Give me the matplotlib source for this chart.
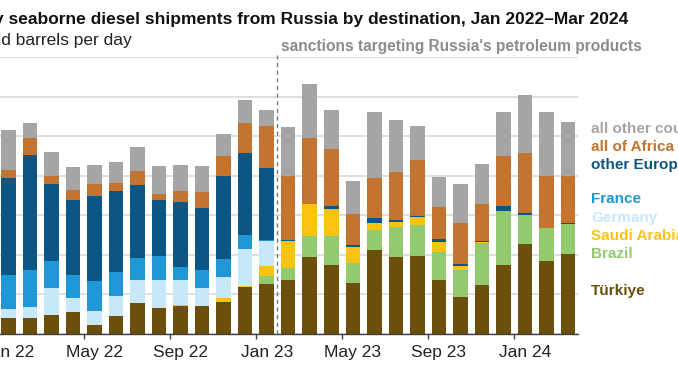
import matplotlib
matplotlib.use("Agg")
import matplotlib.pyplot as plt
import numpy as np

plt.rcParams['font.family'] = ['Liberation Sans', 'DejaVu Sans']

months = ['Jan 22', 'Feb 22', 'Mar 22', 'Apr 22', 'May 22', 'Jun 22', 'Jul 22', 'Aug 22', 'Sep 22',
          'Oct 22', 'Nov 22', 'Dec 22', 'Jan 23', 'Feb 23', 'Mar 23', 'Apr 23', 'May 23', 'Jun 23',
          'Jul 23', 'Aug 23', 'Sep 23', 'Oct 23', 'Nov 23', 'Dec 23', 'Jan 24', 'Feb 24', 'Mar 24']

turkiye = [78, 79, 96, 108, 42, 91, 154, 128, 137, 140, 162, 235, 252, 272, 390, 345, 258, 421,
           390, 394, 269, 187, 247, 348, 456, 368, 402]
brazil = [0, 0, 0, 0, 0, 0, 0, 0, 0, 0, 0, 0, 37, 59, 105, 147, 98, 105, 152, 157, 144, 135, 211,
          274, 145, 166, 152]
saudi_arabia = [0, 0, 0, 0, 0, 0, 0, 0, 7, 0, 17, 6, 51, 139, 160, 139, 84, 34, 25, 37, 52, 22, 7,
                0, 0, 0, 0]
germany = [47, 56, 135, 71, 73, 101, 115, 144, 128, 90, 105, 189, 127, 0, 0, 0, 0, 0, 0, 0, 0, 0,
           0, 0, 0, 0, 0]
france = [172, 187, 138, 117, 149, 122, 115, 122, 64, 93, 93, 68, 5, 0, 0, 0, 0, 0, 0, 0, 0, 0, 0,
          0, 0, 0, 0]
other_europe = [490, 583, 388, 382, 434, 409, 370, 282, 329, 312, 419, 419, 368, 5, 0, 17, 10, 25,
                10, 7, 14, 10, 3, 22, 12, 0, 8]
all_of_africa = [42, 84, 41, 51, 61, 42, 68, 30, 57, 84, 105, 150, 211, 321, 334, 289, 154, 203,
                 240, 285, 160, 208, 189, 257, 304, 265, 236]
all_other = [201, 78, 120, 117, 96, 103, 122, 142, 130, 128, 108, 115, 83, 250, 274, 196, 171, 334,
             265, 172, 154, 194, 204, 220, 292, 324, 275]

series = [
    ('Türkiye', turkiye, '#6b4f0b'),
    ('Brazil', brazil, '#93c96f'),
    ('Saudi Arabia', saudi_arabia, '#fbc311'),
    ('Germany', germany, '#c8e7f8'),
    ('France', france, '#1f98d5'),
    ('other Europe', other_europe, '#0c5686'),
    ('all of Africa', all_of_africa, '#c4742e'),
    ('all other countries', all_other, '#a5a5a5'),
]

W, H = 678, 381
fig = plt.figure(figsize=(W / 100, H / 100), dpi=100)

# axes geometry in pixels (chart is cropped on the left and right)
x0_px, step_px = 8.3, 21.53
xlim = (-0.6, 26.47)
left_px = x0_px + xlim[0] * step_px
right_px = x0_px + xlim[1] * step_px
top_px, bottom_px = 57.3, 333.5
ax = fig.add_axes([left_px / W, 1 - bottom_px / H, (right_px - left_px) / W, (bottom_px - top_px) / H])

x = np.arange(len(months))
bottom = np.zeros(len(months))
for name, vals, col in series:
    v = np.array(vals, dtype=float)
    ax.bar(x, v, bottom=bottom, width=0.675, color=col, linewidth=0, zorder=3)
    bottom += v

ax.set_xlim(*xlim)
ax.set_ylim(0, 1400)
ax.set_yticks(np.arange(0, 1401, 200))
ax.yaxis.grid(True, color='#d9d9d9', linewidth=1.2, zorder=0)
ax.tick_params(axis='y', left=False, labelleft=False)
for s in ['top', 'right', 'left']:
    ax.spines[s].set_visible(False)
ax.spines['bottom'].set_color('#404040')
ax.spines['bottom'].set_linewidth(1.0)
ax.spines['bottom'].set_zorder(4)

ax.set_xticks(np.arange(0, len(months), 4) - 0.5)
ax.set_xticklabels([])
ax.tick_params(axis='x', which='major', length=3.5, width=1, color='#404040', direction='out')
ax.set_xticks(np.arange(0, len(months), 4), minor=True)
ax.set_xticklabels(months[::4], minor=True)
ax.tick_params(axis='x', which='minor', length=0, pad=8.5, labelsize=12.5, labelcolor='#222222')

# sanctions line
ax.axvline(12.5, ymin=0, ymax=1.01, color='#7a7a7a', linestyle=(0, (3, 2.5)), linewidth=1.0,
           zorder=5, clip_on=False)

fig.text(281 / W, 1 - 50.5 / H, "sanctions targeting Russia's petroleum products", color='#8c8c8c',
         fontsize=11.2, fontweight='bold', ha='left', va='baseline')

fig.text(628 / W, 1 - 24 / H,
         'Monthly seaborne diesel shipments from Russia by destination, Jan 2022\u2013Mar 2024',
         fontsize=12.5, fontweight='bold', ha='right', va='baseline', color='#111111')
fig.text(132 / W, 1 - 45.5 / H, 'thousand barrels per day', fontsize=12.5, ha='right',
         va='baseline', color='#222222')

legend_y = {'all other countries': 129, 'all of Africa': 147, 'other Europe': 165, 'France': 199,
            'Germany': 218, 'Saudi Arabia': 236, 'Brazil': 254, 'Türkiye': 291}
for name, vals, col in series:
    fig.text(591 / W, 1 - legend_y[name] / H, name, color=col, fontsize=11, fontweight='bold',
             ha='left', va='center')

fig.savefig('out.png', dpi=100)
